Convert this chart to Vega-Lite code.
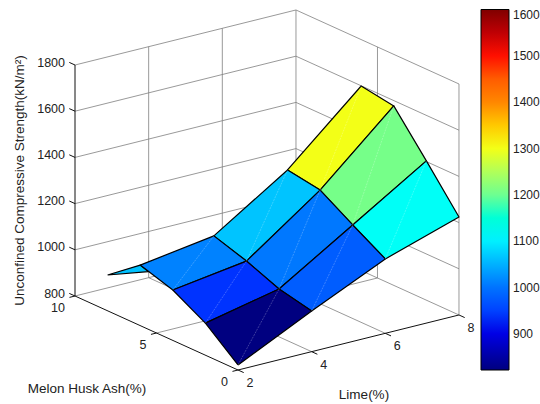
{"$schema":"https://vega.github.io/schema/vega-lite/v6.json","width":540,"height":404,"padding":0,"autosize":{"type":"none"},"background":"white","config":{"view":{"stroke":null},"text":{"font":"Liberation Sans","fontSize":12.5,"color":"#222222"}},
"datasets":{
"cells":[
{"cell":"A6L2s","order":0,"lime":2,"ash":8,"strength":955,"flat":1062},{"cell":"A6L2s","order":1,"lime":2,"ash":6,"strength":1062,"flat":1062},{"cell":"A6L2s","order":2,"lime":2,"ash":5.5,"strength":1050,"flat":1062},{"cell":"A6L2s","order":3,"lime":2,"ash":8,"strength":955,"flat":1062},
{"cell":"A4L6","order":0,"lime":6,"ash":4,"strength":1292,"flat":1300},{"cell":"A4L6","order":1,"lime":8,"ash":4,"strength":1577,"flat":1300},{"cell":"A4L6","order":2,"lime":8,"ash":6,"strength":1599,"flat":1300},{"cell":"A4L6","order":3,"lime":6,"ash":6,"strength":1315,"flat":1300},{"cell":"A4L6","order":4,"lime":6,"ash":4,"strength":1292,"flat":1300},
{"cell":"A4L4","order":0,"lime":4,"ash":4,"strength":1064,"flat":1064},{"cell":"A4L4","order":1,"lime":6,"ash":4,"strength":1292,"flat":1064},{"cell":"A4L4","order":2,"lime":6,"ash":6,"strength":1315,"flat":1064},{"cell":"A4L4","order":3,"lime":4,"ash":6,"strength":1109,"flat":1064},{"cell":"A4L4","order":4,"lime":4,"ash":4,"strength":1064,"flat":1064},
{"cell":"A4L2","order":0,"lime":2,"ash":4,"strength":1018,"flat":1018},{"cell":"A4L2","order":1,"lime":4,"ash":4,"strength":1064,"flat":1018},{"cell":"A4L2","order":2,"lime":4,"ash":6,"strength":1109,"flat":1018},{"cell":"A4L2","order":3,"lime":2,"ash":6,"strength":1062,"flat":1018},{"cell":"A4L2","order":4,"lime":2,"ash":4,"strength":1018,"flat":1018},
{"cell":"A2L6","order":0,"lime":6,"ash":2,"strength":1205,"flat":1205},{"cell":"A2L6","order":1,"lime":8,"ash":2,"strength":1403,"flat":1205},{"cell":"A2L6","order":2,"lime":8,"ash":4,"strength":1577,"flat":1205},{"cell":"A2L6","order":3,"lime":6,"ash":4,"strength":1292,"flat":1205},{"cell":"A2L6","order":4,"lime":6,"ash":2,"strength":1205,"flat":1205},
{"cell":"A2L4","order":0,"lime":4,"ash":2,"strength":1007,"flat":1007},{"cell":"A2L4","order":1,"lime":6,"ash":2,"strength":1205,"flat":1007},{"cell":"A2L4","order":2,"lime":6,"ash":4,"strength":1292,"flat":1007},{"cell":"A2L4","order":3,"lime":4,"ash":4,"strength":1064,"flat":1007},{"cell":"A2L4","order":4,"lime":4,"ash":2,"strength":1007,"flat":1007},
{"cell":"A2L2","order":0,"lime":2,"ash":2,"strength":939,"flat":939},{"cell":"A2L2","order":1,"lime":4,"ash":2,"strength":1007,"flat":939},{"cell":"A2L2","order":2,"lime":4,"ash":4,"strength":1064,"flat":939},{"cell":"A2L2","order":3,"lime":2,"ash":4,"strength":1018,"flat":939},{"cell":"A2L2","order":4,"lime":2,"ash":2,"strength":939,"flat":939},
{"cell":"A0L6","order":0,"lime":6,"ash":0,"strength":1122,"flat":1122},{"cell":"A0L6","order":1,"lime":8,"ash":0,"strength":1224,"flat":1122},{"cell":"A0L6","order":2,"lime":8,"ash":2,"strength":1403,"flat":1122},{"cell":"A0L6","order":3,"lime":6,"ash":2,"strength":1205,"flat":1122},{"cell":"A0L6","order":4,"lime":6,"ash":0,"strength":1122,"flat":1122},
{"cell":"A0L4","order":0,"lime":4,"ash":0,"strength":976,"flat":976},{"cell":"A0L4","order":1,"lime":6,"ash":0,"strength":1122,"flat":976},{"cell":"A0L4","order":2,"lime":6,"ash":2,"strength":1205,"flat":976},{"cell":"A0L4","order":3,"lime":4,"ash":2,"strength":1007,"flat":976},{"cell":"A0L4","order":4,"lime":4,"ash":0,"strength":976,"flat":976},
{"cell":"A0L2","order":0,"lime":2,"ash":0,"strength":822,"flat":822},{"cell":"A0L2","order":1,"lime":4,"ash":0,"strength":976,"flat":822},{"cell":"A0L2","order":2,"lime":4,"ash":2,"strength":1007,"flat":822},{"cell":"A0L2","order":3,"lime":2,"ash":2,"strength":939,"flat":822},{"cell":"A0L2","order":4,"lime":2,"ash":0,"strength":822,"flat":822}
],
"seams":[
{"cell":"A4L6","order":0,"lime":6,"ash":4,"strength":1292},{"cell":"A4L6","order":1,"lime":8,"ash":6,"strength":1599},
{"cell":"A4L4","order":0,"lime":4,"ash":4,"strength":1064},{"cell":"A4L4","order":1,"lime":6,"ash":6,"strength":1315},
{"cell":"A4L2","order":0,"lime":2,"ash":4,"strength":1018},{"cell":"A4L2","order":1,"lime":4,"ash":6,"strength":1109},
{"cell":"A2L6","order":0,"lime":6,"ash":2,"strength":1205},{"cell":"A2L6","order":1,"lime":8,"ash":4,"strength":1577},
{"cell":"A2L4","order":0,"lime":4,"ash":2,"strength":1007},{"cell":"A2L4","order":1,"lime":6,"ash":4,"strength":1292},
{"cell":"A2L2","order":0,"lime":2,"ash":2,"strength":939},{"cell":"A2L2","order":1,"lime":4,"ash":4,"strength":1064},
{"cell":"A0L6","order":0,"lime":6,"ash":0,"strength":1122},{"cell":"A0L6","order":1,"lime":8,"ash":2,"strength":1403},
{"cell":"A0L4","order":0,"lime":4,"ash":0,"strength":976},{"cell":"A0L4","order":1,"lime":6,"ash":2,"strength":1205},
{"cell":"A0L2","order":0,"lime":2,"ash":0,"strength":822},{"cell":"A0L2","order":1,"lime":4,"ash":2,"strength":1007}
],
"grid":[
{"g":"z800","order":0,"lime":2,"ash":10,"strength":800},{"g":"z800","order":1,"lime":8,"ash":10,"strength":800},{"g":"z800","order":2,"lime":8,"ash":0,"strength":800},
{"g":"z1000","order":0,"lime":2,"ash":10,"strength":1000},{"g":"z1000","order":1,"lime":8,"ash":10,"strength":1000},{"g":"z1000","order":2,"lime":8,"ash":0,"strength":1000},
{"g":"z1200","order":0,"lime":2,"ash":10,"strength":1200},{"g":"z1200","order":1,"lime":8,"ash":10,"strength":1200},{"g":"z1200","order":2,"lime":8,"ash":0,"strength":1200},
{"g":"z1400","order":0,"lime":2,"ash":10,"strength":1400},{"g":"z1400","order":1,"lime":8,"ash":10,"strength":1400},{"g":"z1400","order":2,"lime":8,"ash":0,"strength":1400},
{"g":"z1600","order":0,"lime":2,"ash":10,"strength":1600},{"g":"z1600","order":1,"lime":8,"ash":10,"strength":1600},{"g":"z1600","order":2,"lime":8,"ash":0,"strength":1600},
{"g":"z1800","order":0,"lime":2,"ash":10,"strength":1800},{"g":"z1800","order":1,"lime":8,"ash":10,"strength":1800},{"g":"z1800","order":2,"lime":8,"ash":0,"strength":1800},
{"g":"l4","order":0,"lime":4,"ash":0,"strength":800},{"g":"l4","order":1,"lime":4,"ash":10,"strength":800},{"g":"l4","order":2,"lime":4,"ash":10,"strength":1800},
{"g":"l6","order":0,"lime":6,"ash":0,"strength":800},{"g":"l6","order":1,"lime":6,"ash":10,"strength":800},{"g":"l6","order":2,"lime":6,"ash":10,"strength":1800},
{"g":"a5","order":0,"lime":2,"ash":5,"strength":800},{"g":"a5","order":1,"lime":8,"ash":5,"strength":800},{"g":"a5","order":2,"lime":8,"ash":5,"strength":1800},
{"g":"back","order":0,"lime":8,"ash":10,"strength":800},{"g":"back","order":1,"lime":8,"ash":10,"strength":1800},
{"g":"right","order":0,"lime":8,"ash":0,"strength":800},{"g":"right","order":1,"lime":8,"ash":0,"strength":1800}
],
"axes":[
{"g":"limeaxis","order":0,"lime":2,"ash":0,"strength":800},{"g":"limeaxis","order":1,"lime":8,"ash":0,"strength":800},
{"g":"ashaxis","order":0,"lime":2,"ash":0,"strength":800},{"g":"ashaxis","order":1,"lime":2,"ash":10,"strength":800},
{"g":"zaxis","order":0,"lime":2,"ash":10,"strength":800},{"g":"zaxis","order":1,"lime":2,"ash":10,"strength":1800},
{"g":"t800","order":0,"lime":2,"ash":10,"strength":800},{"g":"t800","order":1,"lime":2,"ash":10.35,"strength":800},
{"g":"t1000","order":0,"lime":2,"ash":10,"strength":1000},{"g":"t1000","order":1,"lime":2,"ash":10.35,"strength":1000},
{"g":"t1200","order":0,"lime":2,"ash":10,"strength":1200},{"g":"t1200","order":1,"lime":2,"ash":10.35,"strength":1200},
{"g":"t1400","order":0,"lime":2,"ash":10,"strength":1400},{"g":"t1400","order":1,"lime":2,"ash":10.35,"strength":1400},
{"g":"t1600","order":0,"lime":2,"ash":10,"strength":1600},{"g":"t1600","order":1,"lime":2,"ash":10.35,"strength":1600},
{"g":"t1800","order":0,"lime":2,"ash":10,"strength":1800},{"g":"t1800","order":1,"lime":2,"ash":10.35,"strength":1800},
{"g":"tl2","order":0,"lime":2,"ash":0,"strength":800},{"g":"tl2","order":1,"lime":2,"ash":-0.35,"strength":800},
{"g":"tl4","order":0,"lime":4,"ash":0,"strength":800},{"g":"tl4","order":1,"lime":4,"ash":-0.35,"strength":800},
{"g":"tl6","order":0,"lime":6,"ash":0,"strength":800},{"g":"tl6","order":1,"lime":6,"ash":-0.35,"strength":800},
{"g":"tl8","order":0,"lime":8,"ash":0,"strength":800},{"g":"tl8","order":1,"lime":8,"ash":-0.35,"strength":800},
{"g":"ta0","order":0,"lime":2,"ash":0,"strength":800},{"g":"ta0","order":1,"lime":1.85,"ash":0,"strength":800},
{"g":"ta5","order":0,"lime":2,"ash":5,"strength":800},{"g":"ta5","order":1,"lime":1.85,"ash":5,"strength":800},
{"g":"ta10","order":0,"lime":2,"ash":10,"strength":800},{"g":"ta10","order":1,"lime":1.85,"ash":10,"strength":800}
],
"bartick":[
{"g":"L900","order":0,"pos":0,"value":900},{"g":"L900","order":1,"pos":2.5,"value":900},{"g":"R900","order":0,"pos":28,"value":900},{"g":"R900","order":1,"pos":25.5,"value":900},
{"g":"L1000","order":0,"pos":0,"value":1000},{"g":"L1000","order":1,"pos":2.5,"value":1000},{"g":"R1000","order":0,"pos":28,"value":1000},{"g":"R1000","order":1,"pos":25.5,"value":1000},
{"g":"L1100","order":0,"pos":0,"value":1100},{"g":"L1100","order":1,"pos":2.5,"value":1100},{"g":"R1100","order":0,"pos":28,"value":1100},{"g":"R1100","order":1,"pos":25.5,"value":1100},
{"g":"L1200","order":0,"pos":0,"value":1200},{"g":"L1200","order":1,"pos":2.5,"value":1200},{"g":"R1200","order":0,"pos":28,"value":1200},{"g":"R1200","order":1,"pos":25.5,"value":1200},
{"g":"L1300","order":0,"pos":0,"value":1300},{"g":"L1300","order":1,"pos":2.5,"value":1300},{"g":"R1300","order":0,"pos":28,"value":1300},{"g":"R1300","order":1,"pos":25.5,"value":1300},
{"g":"L1400","order":0,"pos":0,"value":1400},{"g":"L1400","order":1,"pos":2.5,"value":1400},{"g":"R1400","order":0,"pos":28,"value":1400},{"g":"R1400","order":1,"pos":25.5,"value":1400},
{"g":"L1500","order":0,"pos":0,"value":1500},{"g":"L1500","order":1,"pos":2.5,"value":1500},{"g":"R1500","order":0,"pos":28,"value":1500},{"g":"R1500","order":1,"pos":25.5,"value":1500}
],
"zlabels":[{"t":"800","lime":2,"ash":10,"strength":800},{"t":"1000","lime":2,"ash":10,"strength":1000},{"t":"1200","lime":2,"ash":10,"strength":1200},{"t":"1400","lime":2,"ash":10,"strength":1400},{"t":"1600","lime":2,"ash":10,"strength":1600},{"t":"1800","lime":2,"ash":10,"strength":1800}],
"ashlabels":[{"t":"0","lime":2,"ash":0,"strength":800},{"t":"5","lime":2,"ash":5,"strength":800},{"t":"10","lime":2,"ash":10,"strength":800}],
"limelabels":[{"t":"2","lime":2,"ash":0,"strength":800},{"t":"4","lime":4,"ash":0,"strength":800},{"t":"6","lime":6,"ash":0,"strength":800},{"t":"8","lime":8,"ash":0,"strength":800}],
"ashtitle":[{"t":"Melon Husk Ash(%)","lime":2,"ash":5,"strength":800}],
"limetitle":[{"t":"Lime(%)","lime":5,"ash":0,"strength":800}],
"ztitle":[{"t":"Unconfined Compressive Strength(kN/m²)","lime":2,"ash":10,"strength":1300}]
},
"encoding":{
"x":{"field":"px","type":"quantitative","scale":{"domain":[0,540],"nice":false,"zero":false},"axis":null},
"y":{"field":"py","type":"quantitative","scale":{"domain":[404,0],"nice":false,"zero":false},"axis":null}
},
"layer":[
{"data":{"name":"grid"},"transform":[{"calculate":"238+36.83*(datum.lime-2)-16.3*datum.ash","as":"px"},{"calculate":"370-9.17*(datum.lime-2)-7.4*datum.ash-(datum.strength-800)*0.231","as":"py"}],
"mark":{"type":"line","stroke":"#7f7f7f","strokeWidth":0.8},"encoding":{"detail":{"field":"g"},"order":{"field":"order","type":"quantitative"}}},
{"data":{"name":"axes"},"transform":[{"calculate":"238+36.83*(datum.lime-2)-16.3*datum.ash","as":"px"},{"calculate":"370-9.17*(datum.lime-2)-7.4*datum.ash-(datum.strength-800)*0.231","as":"py"}],
"mark":{"type":"line","stroke":"#111111","strokeWidth":1},"encoding":{"detail":{"field":"g"},"order":{"field":"order","type":"quantitative"}}},
{"data":{"name":"cells"},"transform":[{"calculate":"238+36.83*(datum.lime-2)-16.3*datum.ash","as":"px"},{"calculate":"370-9.17*(datum.lime-2)-7.4*datum.ash-(datum.strength-800)*0.231","as":"py"}],
"mark":{"type":"line","stroke":"#000000","strokeWidth":1.2,"strokeJoin":"round"},
"encoding":{"detail":{"field":"cell"},"order":{"field":"order","type":"quantitative"},
"fill":{"field":"flat","type":"quantitative","scale":{"domain":[822,1600],"range":["#000080","#0000ff","#0080ff","#00ffff","#80ff80","#ffff00","#ff8000","#ff0000","#800000"]},
"legend":{"orient":"none","legendX":481,"legendY":9.5,"direction":"vertical","title":null,"gradientLength":360.5,"gradientThickness":28,"gradientStrokeColor":"#000000","gradientStrokeWidth":1,"values":[900,1000,1100,1200,1300,1400,1500,1600],"format":"d","labelFont":"Liberation Sans","labelFontSize":12,"labelColor":"#222222","labelOffset":4}}}},
{"data":{"name":"seams"},"transform":[{"calculate":"238+36.83*(datum.lime-2)-16.3*datum.ash","as":"px"},{"calculate":"370-9.17*(datum.lime-2)-7.4*datum.ash-(datum.strength-800)*0.231","as":"py"}],
"mark":{"type":"line","stroke":"#ffffff","strokeWidth":0.6,"strokeOpacity":0.4,"strokeDash":[2,1]},"encoding":{"detail":{"field":"cell"},"order":{"field":"order","type":"quantitative"}}},
{"data":{"name":"bartick"},"transform":[{"calculate":"481+datum.pos","as":"px"},{"calculate":"370-(datum.value-822)*0.4634","as":"py"}],
"mark":{"type":"line","stroke":"#000000","strokeWidth":1},"encoding":{"detail":{"field":"g"},"order":{"field":"order","type":"quantitative"}}},
{"data":{"name":"zlabels"},"transform":[{"calculate":"238+36.83*(datum.lime-2)-16.3*datum.ash","as":"px"},{"calculate":"370-9.17*(datum.lime-2)-7.4*datum.ash-(datum.strength-800)*0.231","as":"py"}],
"mark":{"type":"text","align":"right","baseline":"middle","dx":-10,"dy":-2.5},"encoding":{"text":{"field":"t"}}},
{"data":{"name":"ashlabels"},"transform":[{"calculate":"238+36.83*(datum.lime-2)-16.3*datum.ash","as":"px"},{"calculate":"370-9.17*(datum.lime-2)-7.4*datum.ash-(datum.strength-800)*0.231","as":"py"}],
"mark":{"type":"text","align":"right","baseline":"middle","dx":-10,"dy":12},"encoding":{"text":{"field":"t"}}},
{"data":{"name":"limelabels"},"transform":[{"calculate":"238+36.83*(datum.lime-2)-16.3*datum.ash","as":"px"},{"calculate":"370-9.17*(datum.lime-2)-7.4*datum.ash-(datum.strength-800)*0.231","as":"py"}],
"mark":{"type":"text","align":"center","baseline":"middle","dx":12,"dy":13},"encoding":{"text":{"field":"t"}}},
{"data":{"name":"ashtitle"},"transform":[{"calculate":"238+36.83*(datum.lime-2)-16.3*datum.ash","as":"px"},{"calculate":"370-9.17*(datum.lime-2)-7.4*datum.ash-(datum.strength-800)*0.231","as":"py"}],
"mark":{"type":"text","align":"center","baseline":"middle","dx":-69.5,"dy":56,"fontSize":13.5},"encoding":{"text":{"field":"t"}}},
{"data":{"name":"limetitle"},"transform":[{"calculate":"238+36.83*(datum.lime-2)-16.3*datum.ash","as":"px"},{"calculate":"370-9.17*(datum.lime-2)-7.4*datum.ash-(datum.strength-800)*0.231","as":"py"}],
"mark":{"type":"text","align":"center","baseline":"middle","dx":15.5,"dy":52.5,"fontSize":13.5},"encoding":{"text":{"field":"t"}}},
{"data":{"name":"ztitle"},"transform":[{"calculate":"238+36.83*(datum.lime-2)-16.3*datum.ash","as":"px"},{"calculate":"370-9.17*(datum.lime-2)-7.4*datum.ash-(datum.strength-800)*0.231","as":"py"}],
"mark":{"type":"text","align":"center","baseline":"middle","angle":270,"dy":-55,"fontSize":13.5},"encoding":{"text":{"field":"t"}}}
]}
